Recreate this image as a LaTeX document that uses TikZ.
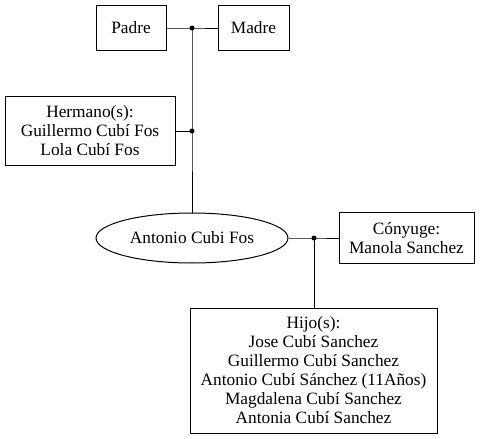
\documentclass[tikz,border=0pt]{standalone}
\usepackage{fontspec}
\setmainfont{Liberation Serif}
\usetikzlibrary{shapes.geometric}
\begin{document}
\begin{tikzpicture}[x=1pt,y=-1pt,
  box/.style={draw,line width=1pt,inner sep=0pt,align=center,font=\fontsize{17.3}{19}\selectfont},
  oval/.style={draw,ellipse,line width=1pt,inner sep=0pt,font=\fontsize{17.3}{19}\selectfont},
  link/.style={line width=1pt},
  dot/.style={circle,fill=black,inner sep=0pt,minimum size=5pt}]
\useasboundingbox (0,0) rectangle (480,439);
\node[box,minimum width=70pt,minimum height=45pt] (padre) at (131,28) {Padre};
\node[box,minimum width=71pt,minimum height=45pt] (madre) at (253.5,28) {Madre};
\node[dot] (j1) at (192,28) {};
\node[box,minimum width=170pt,minimum height=69pt] (herm) at (90,131) {Hermano(s):\\Guillermo Cubí Fos\\Lola Cubí Fos};
\node[dot] (j2) at (192,131) {};
\node[oval,minimum width=192pt,minimum height=50pt] (ego) at (192,238) {Antonio Cubi Fos};
\node[dot] (j3) at (314,238) {};
\node[box,minimum width=135pt,minimum height=51pt] (cony) at (406.5,238) {Cónyuge:\\Manola Sanchez};
\node[box,minimum width=247pt,minimum height=125pt] (hijos) at (313.5,370.5) {Hijo(s):\\Jose Cubí Sanchez\\Guillermo Cubí Sanchez\\Antonio Cubí Sánchez (11Años)\\Magdalena Cubí Sanchez\\Antonia Cubí Sanchez};
\draw[link] (padre.east) -- (j1.center) -- (madre.west);
\draw[link] (j1.center) -- (j2.center) -- (ego.north);
\draw[link] (herm.east) -- (j2.center);
\draw[link] (ego.east) -- (j3.center) -- (cony.west);
\draw[link] (j3.center) -- (hijos.north -| j3.center);
\end{tikzpicture}
\end{document}
